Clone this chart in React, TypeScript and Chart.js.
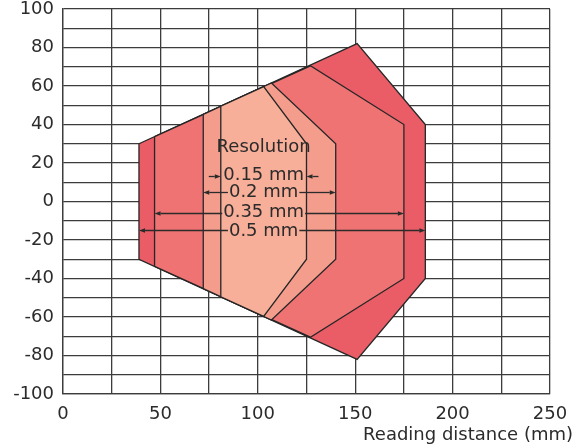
import React, { useEffect, useRef } from 'react';
import { Chart, registerables } from 'chart.js';

Chart.register(...registerables);

// Reading field outlines (x = reading distance mm, y = field width mm)
const resolutionLabels = ['0.5 mm', '0.35 mm', '0.2 mm', '0.15 mm'];
const field05X = [39, 151, 186, 186, 151, 39, 39];
const field05Y = [30, 82, 40, -40, -82, -30, 30];
const field035X = [47, 127, 175, 175, 127, 47, 47];
const field035Y = [33.7, 70.5, 40, -40, -70.5, -33.7, 33.7];
const field02X = [72, 107, 140, 140, 107, 72, 72];
const field02Y = [45.3, 61.6, 30, -30, -61.6, -45.3, 45.3];
const field015X = [81, 103, 125, 125, 103, 81, 81];
const field015Y = [49.5, 59.7, 30, -30, -59.7, -49.5, 49.5];

const fieldXs = [field05X, field035X, field02X, field015X];
const fieldYs = [field05Y, field035Y, field02Y, field015Y];

// Annotation values (data units)
const headingText = 'Resolution';
const headingY = 25.8;
const labelCenterX = 103;
const labelTextY = [-17.9, -8.3, 2.1, 11.25];
const arrowY = [-14.8, -6.1, 4.7, 13.3];
const arrowLeftX = [39, 47, 72, 81];
const arrowRightX = [186, 175, 140, 125];
const arrowInward = [false, false, false, true];

const xAxisTitle = 'Reading distance (mm)';
const xMin = 0, xMax = 250, xStep = 25, xLabelEvery = 50;
const yMin = -100, yMax = 100, yStep = 10, yLabelEvery = 20;

const fieldColors = ['#ea5d67', '#f07373', '#f49d8c', '#f8af99'];
const FONT = '"DejaVu Sans", sans-serif';
const TEXT = '#2b2b2b';

function arrow(ctx: CanvasRenderingContext2D, x0: number, y0: number, x1: number) {
  const dir = x1 > x0 ? 1 : -1;
  const len = 6;
  const hw = 2.3;
  ctx.beginPath();
  ctx.moveTo(x0, y0);
  ctx.lineTo(x1 - dir * len, y0);
  ctx.stroke();
  ctx.beginPath();
  ctx.moveTo(x1, y0);
  ctx.lineTo(x1 - dir * len, y0 - hw);
  ctx.lineTo(x1 - dir * len, y0 + hw);
  ctx.closePath();
  ctx.fill();
}

const annotationPlugin = {
  id: 'fieldAnnotations',
  afterDatasetsDraw(chart: any) {
    const { ctx } = chart;
    const x = chart.scales.x;
    const y = chart.scales.y;
    ctx.save();
    ctx.font = `18px ${FONT}`;
    ctx.fillStyle = TEXT;
    ctx.strokeStyle = '#2b2b2b';
    ctx.lineWidth = 1.3;
    ctx.textAlign = 'center';
    ctx.textBaseline = 'alphabetic';
    const cx = x.getPixelForValue(labelCenterX);
    ctx.fillText(headingText, cx, y.getPixelForValue(headingY));
    resolutionLabels.forEach((t, i) => {
      ctx.fillText(t, cx, y.getPixelForValue(labelTextY[i]));
      const w = ctx.measureText(t).width;
      const ay = Math.round(y.getPixelForValue(arrowY[i])) + 0.5;
      const lx = x.getPixelForValue(arrowLeftX[i]);
      const rx = x.getPixelForValue(arrowRightX[i]);
      if (arrowInward[i]) {
        arrow(ctx, lx - 12, ay, lx);
        arrow(ctx, rx + 12, ay, rx);
      } else {
        arrow(ctx, cx - w / 2 - 1, ay, lx);
        arrow(ctx, cx + w / 2 + 1, ay, rx);
      }
    });
    ctx.textAlign = 'right';
    ctx.fillText(xAxisTitle, chart.width - 7, chart.height - 5);
    ctx.restore();
  },
};

export default function App() {
  const ref = useRef<HTMLCanvasElement | null>(null);
  useEffect(() => {
    if (!ref.current) return;
    const datasets = resolutionLabels
      .map((label, i) => ({
        label,
        data: fieldXs[i].map((vx, j) => ({ x: vx, y: fieldYs[i][j] })),
        showLine: true,
        fill: 'shape' as any,
        backgroundColor: fieldColors[i],
        borderColor: '#262626',
        borderWidth: 1.3,
        pointRadius: 0,
        tension: 0,
        order: resolutionLabels.length - i,
      }));
    const chart = new Chart(ref.current, {
      type: 'scatter',
      data: { datasets },
      plugins: [annotationPlugin],
      options: {
        responsive: false,
        animation: false,
        devicePixelRatio: 1,
        layout: { padding: { left: 0, top: 9, right: 30, bottom: 0 } },
        plugins: {
          legend: { display: false },
          tooltip: { enabled: false },
          filler: { propagate: false },
        },
        scales: {
          x: {
            type: 'linear',
            min: xMin,
            max: xMax,
            afterFit: (s: any) => {
              s.height = 51;
              s.paddingLeft = 0;
              s.paddingRight = 0;
            },
            border: { display: true, color: '#3c3c3c', width: 1.3 },
            grid: { color: '#3c3c3c', lineWidth: 1.3, drawTicks: false },
            ticks: {
              stepSize: xStep,
              autoSkip: false,
              maxRotation: 0,
              padding: 10,
              color: TEXT,
              font: { family: FONT, size: 18 },
              callback: (v: any) => (Number(v) % xLabelEvery === 0 ? String(v) : ''),
            },
          },
          y: {
            type: 'linear',
            min: yMin,
            max: yMax,
            afterFit: (s: any) => {
              s.width = 63;
              s.paddingTop = 0;
              s.paddingBottom = 0;
            },
            border: { display: true, color: '#3c3c3c', width: 1.3 },
            grid: { color: '#3c3c3c', lineWidth: 1.3, drawTicks: false },
            ticks: {
              stepSize: yStep,
              autoSkip: false,
              padding: 9,
              color: TEXT,
              font: { family: FONT, size: 18 },
              callback: (v: any) => (Number(v) % yLabelEvery === 0 ? String(v) : ''),
            },
          },
        },
      },
    });
    return () => chart.destroy();
  }, []);
  return (
    <div style={{ position: 'fixed', left: 0, top: 0, width: 580, height: 445, background: '#fff' }}>
      <canvas ref={ref} width={580} height={445} style={{ display: 'block' }} />
    </div>
  );
}
